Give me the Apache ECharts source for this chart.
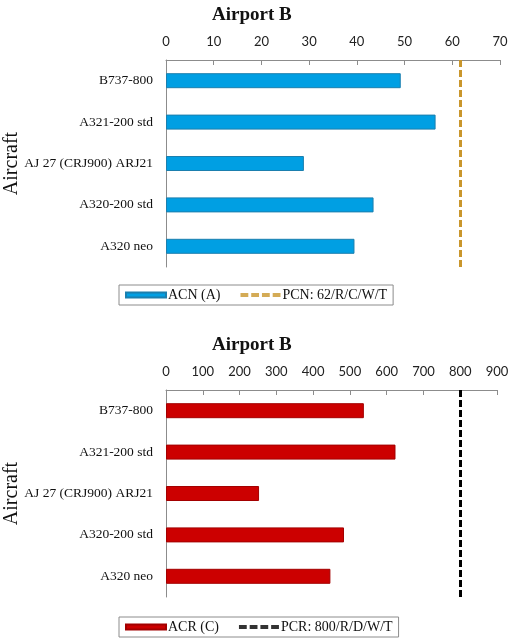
<!DOCTYPE html>
<html>
<head>
<meta charset="utf-8">
<script src="https://cdn.jsdelivr.net/npm/echarts@6/dist/echarts.min.js"></script>
<style>
  html, body { margin: 0; padding: 0; background: #fff; }
  #chart { width: 520px; height: 644px; }
</style>
</head>
<body>
<div id="chart"></div>
<script>
var aircraft = ['B737-800', 'A321-200 std', 'AJ 27 (CRJ900) ARJ21', 'A320-200 std', 'A320 neo'];
var acnValues = [49.2, 56.5, 28.9, 43.5, 39.5];
var acrValues = [538, 624, 253, 484, 447];
var pcnValue = 61.7;
var pcrValue = 800;
var acnTicks = [0, 70, 10];
var acrTicks = [0, 900, 100];

var serif = '"Liberation Serif", "DejaVu Serif", serif';
var sans = 'Lato, "Open Sans", sans-serif';
// icone tracejado para a legenda
var tracejado = 'path://M0,0h8v4h-8zM11,0h8v4h-8zM22,0h8v4h-8zM33,0h8v4h-8z';

var chart = echarts.init(document.getElementById('chart'));

function eixoX(idx, ticks) {
  return {
    gridIndex: idx,
    type: 'value',
    position: 'top',
    min: ticks[0],
    max: ticks[1],
    interval: ticks[2],
    axisLine: { show: true, lineStyle: { color: '#8c8c8c', width: 1 } },
    axisTick: { show: true, inside: true, length: 5, lineStyle: { color: '#8c8c8c' } },
    axisLabel: { color: '#222', fontFamily: sans, fontSize: 13, margin: 12 },
    splitLine: { show: false }
  };
}

function eixoY(idx) {
  return {
    gridIndex: idx,
    type: 'category',
    inverse: true,
    data: aircraft,
    axisLine: { show: true, lineStyle: { color: '#8c8c8c', width: 1 } },
    axisTick: { show: false },
    axisLabel: { color: '#111', fontFamily: serif, fontSize: 13.5, margin: 13 },
    name: 'Aircraft',
    nameLocation: 'middle',
    nameRotate: 90,
    nameGap: 144,
    nameMoveOverlap: false,
    nameTextStyle: { color: '#111', fontFamily: serif, fontSize: 20 }
  };
}

function legenda(top, barra, linha) {
  return {
    top: top,
    left: 119,
    data: [
      { name: barra, icon: 'rect' },
      { name: linha, icon: tracejado }
    ],
    orient: 'horizontal',
    borderColor: '#8c8c8c',
    borderWidth: 1,
    padding: [3, 6, 3, 6],
    itemWidth: 40,
    itemHeight: 5,
    itemGap: 20,
    textStyle: { color: '#111', fontFamily: serif, fontSize: 14, padding: [0, 0, 0, -3] }
  };
}

function linhaLimite(nome, eixo, valor, cor) {
  return {
    name: nome,
    type: 'scatter',
    xAxisIndex: eixo,
    yAxisIndex: eixo,
    data: [],
    itemStyle: { color: cor },
    markLine: {
      silent: true,
      symbol: 'none',
      label: { show: false },
      lineStyle: { color: cor, width: 3, type: [7, 3] },
      data: [{ xAxis: valor }]
    }
  };
}

var option = {
  animation: false,
  backgroundColor: '#fff',
  title: [
    { text: 'Airport B', left: 207, top: 1, textStyle: { fontFamily: serif, fontSize: 19, fontWeight: 'bold', color: '#111' } },
    { text: 'Airport B', left: 207, top: 331, textStyle: { fontFamily: serif, fontSize: 19, fontWeight: 'bold', color: '#111' } }
  ],
  legend: [
    legenda(285, 'ACN (A)', 'PCN: 62/R/C/W/T'),
    legenda(617, 'ACR (C)', 'PCR: 800/R/D/W/T')
  ],
  grid: [
    { left: 166, right: 20, top: 60, height: 207, outerBoundsMode: 'none', containLabel: false },
    { left: 166, right: 23, top: 390, height: 207, outerBoundsMode: 'none', containLabel: false }
  ],
  xAxis: [eixoX(0, acnTicks), eixoX(1, acrTicks)],
  yAxis: [eixoY(0), eixoY(1)],
  series: [
    {
      name: 'ACN (A)',
      type: 'bar',
      xAxisIndex: 0,
      yAxisIndex: 0,
      data: acnValues,
      barWidth: 15,
      itemStyle: { color: '#009fe3', borderColor: '#1b7fae', borderWidth: 1 }
    },
    linhaLimite('PCN: 62/R/C/W/T', 0, pcnValue, '#c9962c'),
    {
      name: 'ACR (C)',
      type: 'bar',
      xAxisIndex: 1,
      yAxisIndex: 1,
      data: acrValues,
      barWidth: 15,
      itemStyle: { color: '#cc0000', borderColor: '#a30000', borderWidth: 1 }
    },
    linhaLimite('PCR: 800/R/D/W/T', 1, pcrValue, '#000')
  ]
};

option && chart.setOption(option);
</script>
</body>
</html>
